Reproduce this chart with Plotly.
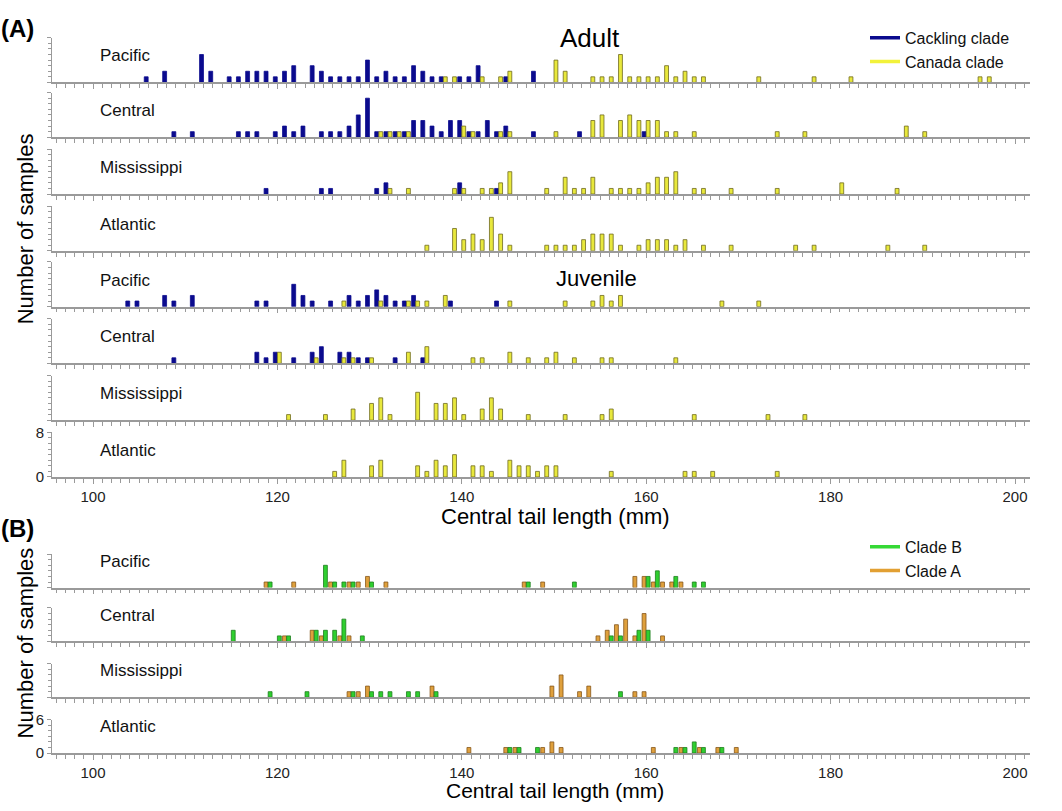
import plotly.graph_objects as go

# ---------------- DATA (tail length mm -> number of samples) ----------------
# Panel A, adults
ad_pac_cack_mm = [106,108,112,113,115,116,117,118,119,120,121,122,124,125,126,127,128,129,130,131,132,133,134,135,136,137,138,140,141,142,145,148]
ad_pac_cack_n  = [1,2,5,2,1,1,2,2,2,1,2,3,3,2,1,1,1,1,4,1,2,1,1,3,2,1,1,1,1,3,1,2]
ad_pac_can_mm  = [138,139,142,144,145,150,151,154,155,156,157,158,159,160,161,162,163,164,165,166,172,178,182,196,197]
ad_pac_can_n   = [1,1,1,1,2,4,2,1,1,1,5,1,1,1,1,3,1,2,1,1,1,1,1,1,1]

ad_cen_cack_mm = [109,111,116,117,118,120,121,122,123,125,126,127,128,129,130,131,132,133,134,135,136,137,138,139,140,141,142,143,144,145,148,153,160]
ad_cen_cack_n  = [1,1,1,1,1,1,2,1,2,1,1,1,2,4,7,1,1,1,1,3,3,2,1,3,3,1,1,3,1,2,1,1,1]
ad_cen_can_mm  = [131,132,133,134,140,141,144,145,150,154,155,157,158,159,160,161,162,163,165,174,177,188,190]
ad_cen_can_n   = [1,1,1,1,2,1,1,1,1,3,4,3,4,3,3,3,1,1,1,1,1,2,1]

ad_mis_cack_mm = [119,125,126,131,132,140,144]
ad_mis_cack_n  = [1,1,1,1,2,2,1]
ad_mis_can_mm  = [132,134,139,140,142,143,144,145,149,151,152,153,154,156,157,158,159,160,161,162,163,165,166,169,174,181,187]
ad_mis_can_n   = [1,1,1,1,1,1,2,4,1,3,1,1,3,1,1,1,1,2,3,3,4,1,1,1,1,2,1]

ad_atl_cack_mm = []
ad_atl_cack_n  = []
ad_atl_can_mm  = [136,139,140,141,142,143,144,145,149,150,151,152,153,154,155,156,157,159,160,161,162,163,164,166,169,176,178,186,190]
ad_atl_can_n   = [1,4,2,3,2,6,3,1,1,1,1,1,2,3,3,3,1,1,2,2,2,1,2,1,1,1,1,1,1]

# Panel A, juveniles
ju_pac_cack_mm = [104,105,108,109,111,118,119,122,123,124,126,128,129,130,131,132,133,134,135,139,144]
ju_pac_cack_n  = [1,1,2,1,2,1,1,4,2,1,1,2,1,2,3,2,1,1,2,1,1]
ju_pac_can_mm  = [127,131,134,135,136,138,145,151,154,155,156,157,168,172]
ju_pac_can_n   = [1,1,1,1,1,2,1,1,1,2,1,2,1,1]

ju_cen_cack_mm = [109,118,119,120,122,124,125,127,128,129,130,133,136]
ju_cen_cack_n  = [1,2,1,2,1,2,3,2,2,1,1,1,1]
ju_cen_can_mm  = [120,124,127,128,130,134,136,141,142,145,147,149,150,152,155,156,163]
ju_cen_can_n   = [2,1,1,1,1,2,3,1,1,2,1,1,2,1,1,1,1]

ju_mis_cack_mm = []
ju_mis_cack_n  = []
ju_mis_can_mm  = [121,125,128,130,131,132,135,137,138,139,140,142,143,144,147,151,155,156,165,173,177]
ju_mis_can_n   = [1,1,2,3,4,1,5,3,3,4,1,2,4,2,1,1,1,2,1,1,1]

ju_atl_cack_mm = []
ju_atl_cack_n  = []
ju_atl_can_mm  = [126,127,130,131,135,136,137,138,139,141,142,143,145,146,147,148,149,150,156,164,165,167,174]
ju_atl_can_n   = [1,3,2,3,2,1,3,2,4,2,2,1,3,2,2,1,2,2,1,1,1,1,1]

# Panel B
b_pac_A_mm = [119,122,126,128,129,130,132,147,149,159,160,161,162,163,164]
b_pac_A_n  = [1,1,1,1,1,2,1,1,1,2,2,1,1,1,1]
b_pac_B_mm = [119,125,126,127,128,130,147,152,160,161,163,165,166]
b_pac_B_n  = [1,4,1,1,1,1,1,1,2,3,2,1,1]

b_cen_A_mm = [121,124,125,127,128,155,156,157,158,159,160,162]
b_cen_A_n  = [1,2,1,1,1,1,2,3,4,1,5,1]
b_cen_B_mm = [115,120,121,124,125,126,127,129,156,157,159,160]
b_cen_B_n  = [2,1,1,2,2,2,4,1,1,1,2,2]

b_mis_A_mm = [128,129,130,137,150,151,153,154,159,160]
b_mis_A_n  = [1,1,2,2,2,4,1,2,1,1]
b_mis_B_mm = [119,123,128,130,131,132,134,135,137,157]
b_mis_B_n  = [1,1,1,1,1,1,1,1,1,1]

b_atl_A_mm = [141,145,146,149,150,151,161,164,166,168,170]
b_atl_A_n  = [1,1,1,1,2,1,1,1,1,1,1]
b_atl_B_mm = [145,146,148,163,164,165,166,168]
b_atl_B_n  = [1,1,1,1,1,2,1,1]

region_names = ["Pacific", "Central", "Mississippi", "Atlantic"]
x_tick_vals = [100, 120, 140, 160, 180, 200]
legend_A = ["Cackling clade", "Canada clade"]
legend_B = ["Clade B", "Clade A"]

# ---------------- STYLE ----------------
W, H = 1062, 811
FONT = "Liberation Sans, Arial, sans-serif"
NAVY = "#0b0b8e"
YEL = "#e8e83c"
YEL_LINE = "#6e6a20"
GREEN = "#2fcf2f"
GREEN_LINE = "#1d7d1d"
ORANGE = "#dfa03c"
ORANGE_LINE = "#85561a"
AXCOL = "#9a9a9a"

px_x0, px_x1 = 52, 1030          # plot area horizontal extent (px)
px100, px_per_mm = 93, 9.22
xr = [100 - (px100 - px_x0) / px_per_mm, 100 + (px_x1 - px100) / px_per_mm]
unit_px = 5.7

rows = [
    (ad_pac_cack_mm, ad_pac_cack_n, ad_pac_can_mm, ad_pac_can_n, 75, 8, "A", region_names[0]),
    (ad_cen_cack_mm, ad_cen_cack_n, ad_cen_can_mm, ad_cen_can_n, 131, 8, "A", region_names[1]),
    (ad_mis_cack_mm, ad_mis_cack_n, ad_mis_can_mm, ad_mis_can_n, 189, 8, "A", region_names[2]),
    (ad_atl_cack_mm, ad_atl_cack_n, ad_atl_can_mm, ad_atl_can_n, 247, 8, "A", region_names[3]),
    (ju_pac_cack_mm, ju_pac_cack_n, ju_pac_can_mm, ju_pac_can_n, 304, 8, "A", region_names[0]),
    (ju_cen_cack_mm, ju_cen_cack_n, ju_cen_can_mm, ju_cen_can_n, 362, 8, "A", region_names[1]),
    (ju_mis_cack_mm, ju_mis_cack_n, ju_mis_can_mm, ju_mis_can_n, 420, 8, "A", region_names[2]),
    (ju_atl_cack_mm, ju_atl_cack_n, ju_atl_can_mm, ju_atl_can_n, 478, 8, "A", region_names[3]),
    (b_pac_A_mm, b_pac_A_n, b_pac_B_mm, b_pac_B_n, 591, 6, "B", region_names[0]),
    (b_cen_A_mm, b_cen_A_n, b_cen_B_mm, b_cen_B_n, 646, 6, "B", region_names[1]),
    (b_mis_A_mm, b_mis_A_n, b_mis_B_mm, b_mis_B_n, 703, 6, "B", region_names[2]),
    (b_atl_A_mm, b_atl_A_n, b_atl_B_mm, b_atl_B_n, 760, 6, "B", region_names[3]),
]
last_rows = {7, 11}

fig = go.Figure()
annotations = []

for i, (m1, n1, m2, n2, base, ymax, panel, label) in enumerate(rows):
    xa = "x" if i == 0 else f"x{i+1}"
    ya = "y" if i == 0 else f"y{i+1}"
    xkey = "xaxis" if i == 0 else f"xaxis{i+1}"
    ykey = "yaxis" if i == 0 else f"yaxis{i+1}"
    if panel == "A":
        c1, l1, c2, l2 = NAVY, NAVY, YEL, YEL_LINE
    else:
        c1, l1, c2, l2 = ORANGE, ORANGE_LINE, GREEN, GREEN_LINE
    fig.add_trace(go.Bar(x=m1, y=n1, xaxis=xa, yaxis=ya, width=0.42, offset=-0.44,
                         marker=dict(color=c1, line=dict(color=l1, width=0.8)),
                         showlegend=False, hoverinfo="x+y"))
    fig.add_trace(go.Bar(x=m2, y=n2, xaxis=xa, yaxis=ya, width=0.42, offset=0.0,
                         marker=dict(color=c2, line=dict(color=l2, width=0.8)),
                         showlegend=False, hoverinfo="x+y"))
    hpx = ymax * unit_px
    dom = [1 - base / H, 1 - (base - hpx) / H]
    is_last = i in last_rows
    fig.layout[xkey] = dict(
        domain=[px_x0 / W, px_x1 / W], range=xr, anchor=ya,
        showline=True, linecolor=AXCOL, linewidth=1.5,
        ticks="outside", ticklen=5, tickcolor=AXCOL, tickwidth=1,
        tickvals=x_tick_vals, showticklabels=is_last,
        tickfont=dict(family=FONT, size=15, color="#222"),
        minor=dict(ticks="outside", ticklen=4, dtick=1, tick0=0, tickcolor=AXCOL, tickwidth=1),
        showgrid=False, zeroline=False, fixedrange=True,
    )
    fig.layout[ykey] = dict(
        domain=dom, range=[0, ymax], anchor=xa,
        showline=True, linecolor=AXCOL, linewidth=1,
        ticks="outside", ticklen=4, tickcolor=AXCOL,
        tickvals=[0, ymax], showticklabels=is_last,
        tickfont=dict(family=FONT, size=15, color="#222"),
        minor=dict(ticks="outside", ticklen=3, dtick=1, tickcolor=AXCOL),
        showgrid=False, zeroline=False, fixedrange=True,
    )
    annotations.append(dict(xref="paper", yref="paper", x=98 / W, y=1 - (base - 27) / H,
                            text=label, showarrow=False, xanchor="left", yanchor="middle",
                            font=dict(family=FONT, size=17, color="#111")))

# legends as line swatches
leg_specs = [(legend_A[0], NAVY, "legend"), (legend_A[1], "#f2f23a", "legend"),
             (legend_B[0], "#35d935", "legend2"), (legend_B[1], "#e2a033", "legend2")]
for name, col, lg in leg_specs:
    fig.add_trace(go.Scatter(x=[None], y=[None], mode="lines", name=name,
                             line=dict(color=col, width=3.5), legend=lg,
                             xaxis="x", yaxis="y"))

def ann(x, y, text, size, angle=0, xanchor="center", yanchor="middle"):
    annotations.append(dict(xref="paper", yref="paper", x=x / W, y=1 - y / H, text=text,
                            showarrow=False, xanchor=xanchor, yanchor=yanchor, textangle=angle,
                            borderpad=0,
                            font=dict(family=FONT, size=size, color="#000")))

ann(0, 20, "<b>(A)</b>", 24, xanchor="left")
ann(0, 531, "<b>(B)</b>", 24, xanchor="left")
ann(590, 30, "Adult", 26)
ann(596, 275, "Juvenile", 22)
ann(25, 225, "Number of samples", 22, angle=-90)
ann(25, 648, "Number of samples", 22, angle=-90)
ann(555, 518, "Central tail length (mm)", 22)
ann(555, 811, "Central tail length (mm)", 21, yanchor="bottom")

fig.update_layout(
    width=W, height=H, margin=dict(l=0, r=0, t=0, b=0),
    paper_bgcolor="white", plot_bgcolor="white", barmode="overlay",
    annotations=annotations,
    legend=dict(x=865 / W, y=1 - 12 / H, xanchor="left", yanchor="top",
                font=dict(family=FONT, size=16, color="#111"), bgcolor="rgba(0,0,0,0)",
                itemwidth=30, tracegroupgap=0),
    legend2=dict(x=865 / W, y=1 - 532 / H, xanchor="left", yanchor="top",
                 font=dict(family=FONT, size=16, color="#111"), bgcolor="rgba(0,0,0,0)",
                 itemwidth=30, tracegroupgap=0),
    showlegend=True,
)

fig.write_html("out.html", config={"displayModeBar": False},
               post_script="document.body.style.margin='0px';document.body.style.padding='0px';document.body.style.overflow='hidden';")
